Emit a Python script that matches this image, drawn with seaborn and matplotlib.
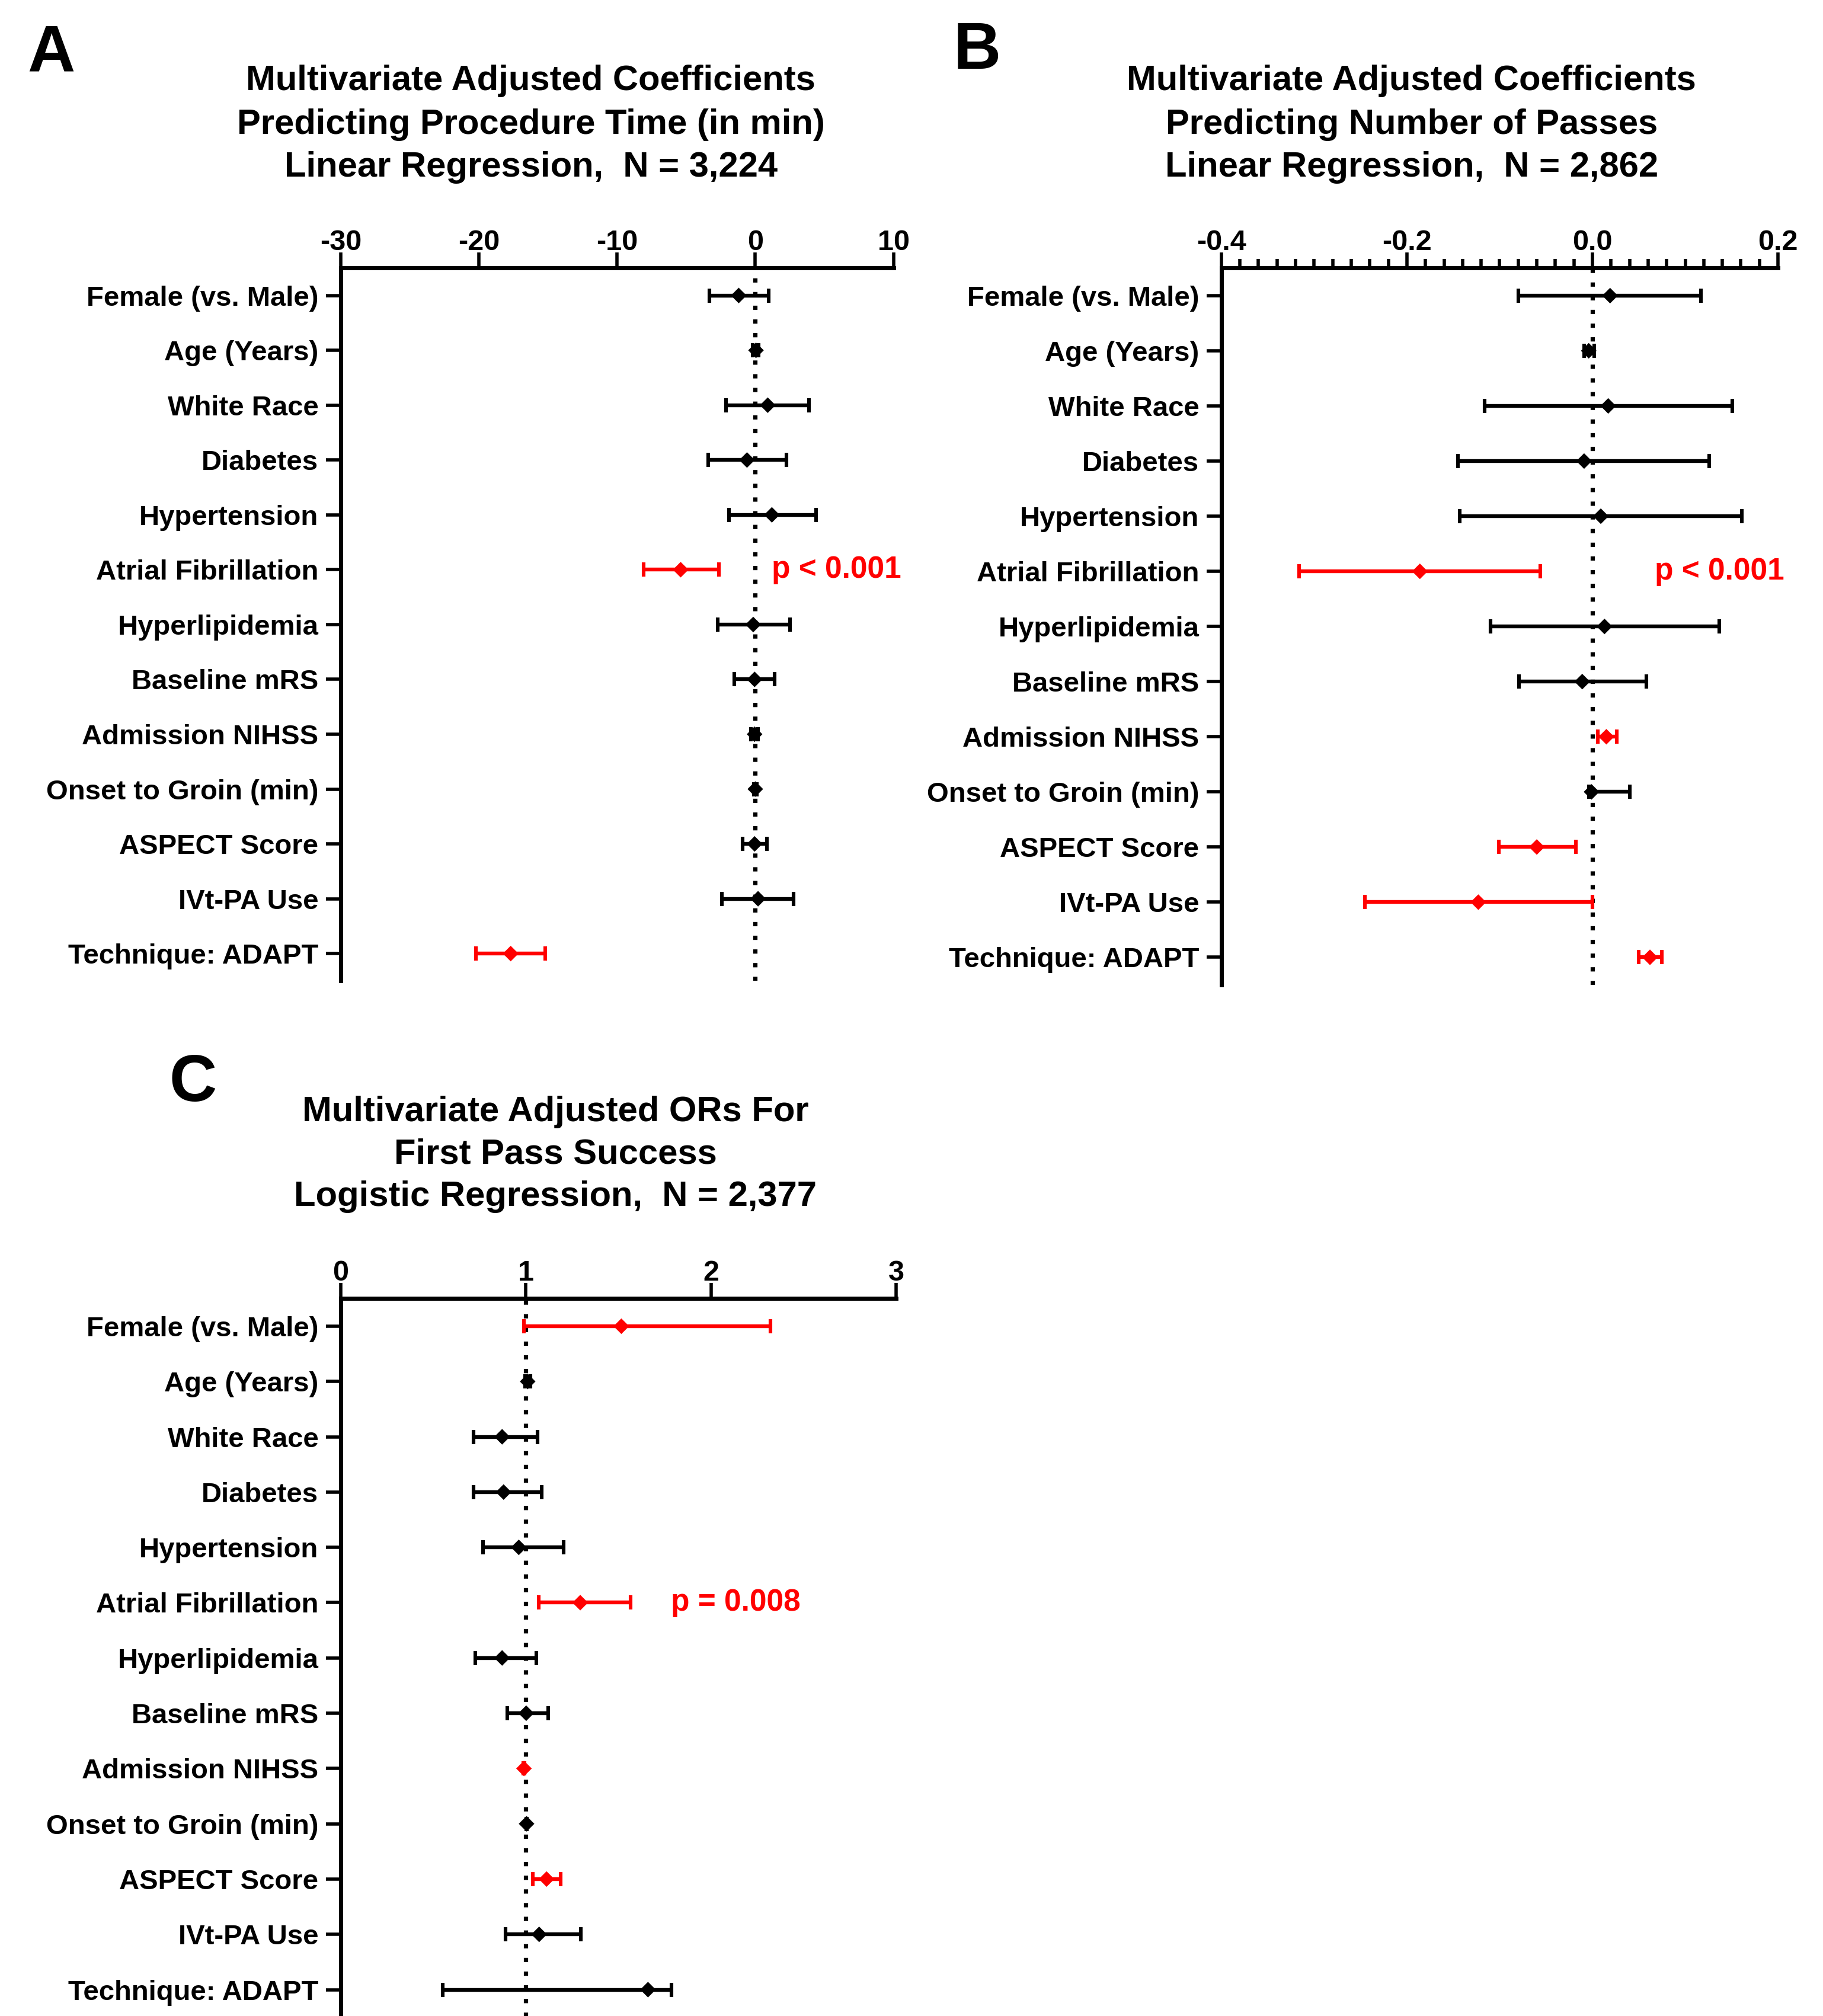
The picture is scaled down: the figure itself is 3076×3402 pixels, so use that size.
import numpy as np
import pandas as pd
import seaborn as sns
import matplotlib.pyplot as plt
from matplotlib.ticker import MultipleLocator

variables = ["Female (vs. Male)", "Age (Years)", "White Race", "Diabetes", "Hypertension",
             "Atrial Fibrillation", "Hyperlipidemia", "Baseline mRS", "Admission NIHSS",
             "Onset to Groin (min)", "ASPECT Score", "IVt-PA Use", "Technique: ADAPT"]

# A: procedure time (min), linear regression
time_coef = [-1.2, 0.05, 0.9, -0.6, 1.2, -5.4, -0.15, -0.05, -0.05, 0.0, -0.05, 0.2, -17.7]
time_lo = [-3.3, -0.2, -2.1, -3.4, -1.9, -8.1, -2.7, -1.5, -0.3, -0.1, -0.9, -2.4, -20.2]
time_hi = [0.97, 0.25, 3.9, 2.25, 4.4, -2.65, 2.5, 1.4, 0.2, 0.1, 0.85, 2.75, -15.2]
time_sig = [0, 0, 0, 0, 0, 1, 0, 0, 0, 0, 0, 0, 1]

# B: number of passes, linear regression
pass_coef = [0.019, -0.004, 0.017, -0.009, 0.009, -0.186, 0.013, -0.011, 0.015, -0.001, -0.060, -0.123, 0.062]
pass_lo = [-0.080, -0.009, -0.116, -0.145, -0.143, -0.316, -0.110, -0.079, 0.006, -0.004, -0.101, -0.245, 0.050]
pass_hi = [0.117, 0.002, 0.151, 0.126, 0.161, -0.056, 0.137, 0.058, 0.026, 0.040, -0.018, 0.0, 0.075]
pass_sig = [0, 0, 0, 0, 0, 1, 0, 0, 1, 0, 1, 1, 1]

# C: first pass success ORs, logistic regression
fps_or = [1.516, 1.01, 0.872, 0.88, 0.962, 1.294, 0.872, 1.002, 0.99, 1.004, 1.112, 1.072, 1.66]
fps_lo = [0.99, 0.995, 0.718, 0.718, 0.77, 1.07, 0.728, 0.90, 0.988, 1.002, 1.038, 0.89, 0.55]
fps_hi = [2.32, 1.025, 1.064, 1.086, 1.204, 1.566, 1.056, 1.12, 0.992, 1.006, 1.188, 1.296, 1.786]
fps_sig = [1, 0, 0, 0, 0, 1, 0, 0, 1, 0, 1, 0, 0]

sns.set_theme(style="ticks")
plt.rcParams['font.family'] = ['Liberation Sans', 'DejaVu Sans']
plt.rcParams['font.weight'] = 'bold'
for key in ['text.color', 'axes.labelcolor', 'xtick.color', 'ytick.color', 'axes.edgecolor']:
    plt.rcParams[key] = 'black'

W, H = 1418, 1568
fig = plt.figure(figsize=(15.38, 17.01), dpi=200)
colors = {0: "black", 1: "#ff0000"}


def panel(rect, coef, lo, hi, sig, ref, xlim, xticks, xlabels, ptext, px):
    left, right, top, bottom = rect
    ax = fig.add_axes([left / W, 1 - bottom / H, (right - left) / W, (bottom - top) / H])
    df = pd.DataFrame({"var": variables, "coef": coef, "lo": lo, "hi": hi, "sig": sig})
    df["row"] = np.arange(len(df))
    ax.axvline(ref, color="black", ls=(0, (1, 2.2)), lw=2.6, zorder=1)
    for s, g in df.groupby("sig"):
        ax.errorbar(g["coef"], g["row"], xerr=[g["coef"] - g["lo"], g["hi"] - g["coef"]],
                    fmt="none", ecolor=colors[s], elinewidth=2.3, capsize=4.2, capthick=2.2, zorder=2)
    sns.scatterplot(data=df, x="coef", y="row", hue="sig", palette=colors, marker="D",
                    s=45, linewidth=0, legend=False, ax=ax, zorder=3)
    ax.set_ylim(12.5, -0.5)
    ax.set_xlim(*xlim)
    ax.set_yticks(df["row"])
    ax.set_yticklabels(variables, fontsize=17, fontweight="bold", color="black")
    ax.set_xticks(xticks)
    ax.set_xticklabels(xlabels, fontsize=17.5, fontweight="bold", color="black")
    ax.xaxis.tick_top()
    ax.set_xlabel("")
    ax.set_ylabel("")
    for sp in ["right", "bottom"]:
        ax.spines[sp].set_visible(False)
    for sp in ["top", "left"]:
        ax.spines[sp].set_linewidth(2.5)
        ax.spines[sp].set_color("black")
    ax.tick_params(axis="y", length=9, width=2.0, pad=4.5, colors="black")
    ax.tick_params(axis="x", which="major", length=9.5, width=2.0, pad=-2, colors="black")
    ax.tick_params(axis="x", which="minor", length=5.5, width=2.0, colors="black", top=True)
    ax.set_facecolor("none")
    row = variables.index("Atrial Fibrillation")
    ax.text(px, row, ptext, color="#ff0000", fontsize=18.5, fontweight="bold",
            va="center", ha="left", clip_on=False)
    return ax


panel((265, 695, 208.5, 763), time_coef, time_lo, time_hi, time_sig, 0, (-30, 10),
      [-30, -20, -10, 0, 10], ["-30", "-20", "-10", "0", "10"], "p < 0.001", 1.2)
axb = panel((950, 1383, 208.5, 766), pass_coef, pass_lo, pass_hi, pass_sig, 0, (-0.4, 0.2),
            [-0.4, -0.2, 0.0, 0.2], ["-0.4", "-0.2", "0.0", "0.2"], "p < 0.001", 0.067)
axb.xaxis.set_minor_locator(MultipleLocator(0.02))
panel((265, 697, 1010, 1569), fps_or, fps_lo, fps_hi, fps_sig, 1, (0, 3),
      [0, 1, 2, 3], ["0", "1", "2", "3"], "p = 0.008", 1.785)

titles = [
    (413, [63, 97, 130], ["Multivariate Adjusted Coefficients",
                          "Predicting Procedure Time (in min)",
                          "Linear Regression,  N = 3,224"]),
    (1098, [63, 97, 130], ["Multivariate Adjusted Coefficients",
                           "Predicting Number of Passes",
                           "Linear Regression,  N = 2,862"]),
    (432, [865, 898, 931], ["Multivariate Adjusted ORs For",
                            "First Pass Success",
                            "Logistic Regression,  N = 2,377"]),
]
for x, ys, lines in titles:
    for y, t in zip(ys, lines):
        fig.text(x / W, 1 - y / H, t, ha="center", va="center", fontsize=21.5,
                 fontweight="bold", color="black")

for lab, x, y in [("A", 40, 42), ("B", 760, 40), ("C", 150, 843)]:
    fig.text(x / W, 1 - y / H, lab, ha="center", va="center", fontsize=40,
             fontweight="bold", color="black")

fig.savefig("out.png", dpi=200, facecolor="white")
